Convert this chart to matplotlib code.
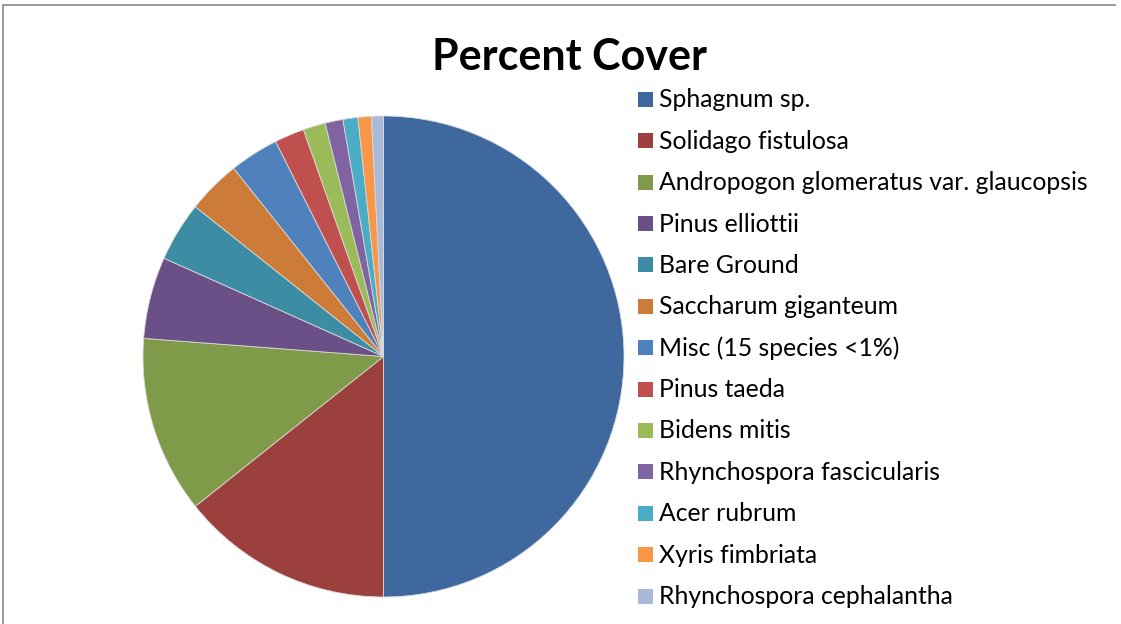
import matplotlib
matplotlib.use('Agg')
import matplotlib.pyplot as plt
from matplotlib.patches import Rectangle
from matplotlib.lines import Line2D

# data (percent cover)
species = ['Sphagnum sp.', 'Solidago fistulosa',
           'Andropogon glomeratus var. glaucopsis', 'Pinus elliottii',
           'Bare Ground', 'Saccharum giganteum', 'Misc (15 species <1%)',
           'Pinus taeda', 'Bidens mitis', 'Rhynchospora fascicularis',
           'Acer rubrum', 'Xyris fimbriata', 'Rhynchospora cephalantha']
cover = [50.0, 14.3, 11.9, 5.5, 4.0, 3.6, 3.3, 2.0, 1.5, 1.2, 1.0, 0.9, 0.8]
colors = ['#3F699E', '#9C403E', '#7F9A48', '#6A5086', '#3C8DA4', '#CC7B38',
          '#4F81BD', '#C0504D', '#9BBB59', '#8064A2', '#4BACC6', '#F79646',
          '#A9B9D8']

W, H = 1121, 624
fig = plt.figure(figsize=(W / 100, H / 100), dpi=100)
plt.rcParams['font.family'] = ['Lato', 'DejaVu Sans']

# pie
cx, cy, r = 383.5, 356.5, 240.5
ax = fig.add_axes([(cx - r) / W, 1 - (cy + r) / H, 2 * r / W, 2 * r / H])
ax.pie(cover, colors=colors, startangle=90, counterclock=False,
       wedgeprops=dict(linewidth=0.6, edgecolor='#d9d9d9'))
ax.set_xlim(-1, 1)
ax.set_ylim(-1, 1)
ax.set_aspect('auto')
ax.axis('off')

# title
fig.text(569.5 / W, 1 - 57 / H, 'Percent Cover', ha='center', va='center',
         fontsize=31, fontweight='bold')

# legend
y0, dy = 99.3, 41.4
for i, (name, col) in enumerate(zip(species, colors)):
    y = y0 + i * dy
    fig.patches.append(Rectangle((638 / W, 1 - (y + 7.5) / H), 15 / W, 15 / H,
                                 transform=fig.transFigure, facecolor=col,
                                 edgecolor='none'))
    fig.text(659 / W, 1 - (y + 0.5) / H, name, ha='left', va='center',
             fontsize=17.8)

# chart area border (top and left only are visible)
bx = [3 / W, 3 / W, 1115 / W]
by = [0, 1 - 5 / H, 1 - 5 / H]
fig.lines.append(Line2D(bx, by, transform=fig.transFigure,
                        color='#868686', linewidth=1.2))

fig.savefig('out.png', dpi=100)
